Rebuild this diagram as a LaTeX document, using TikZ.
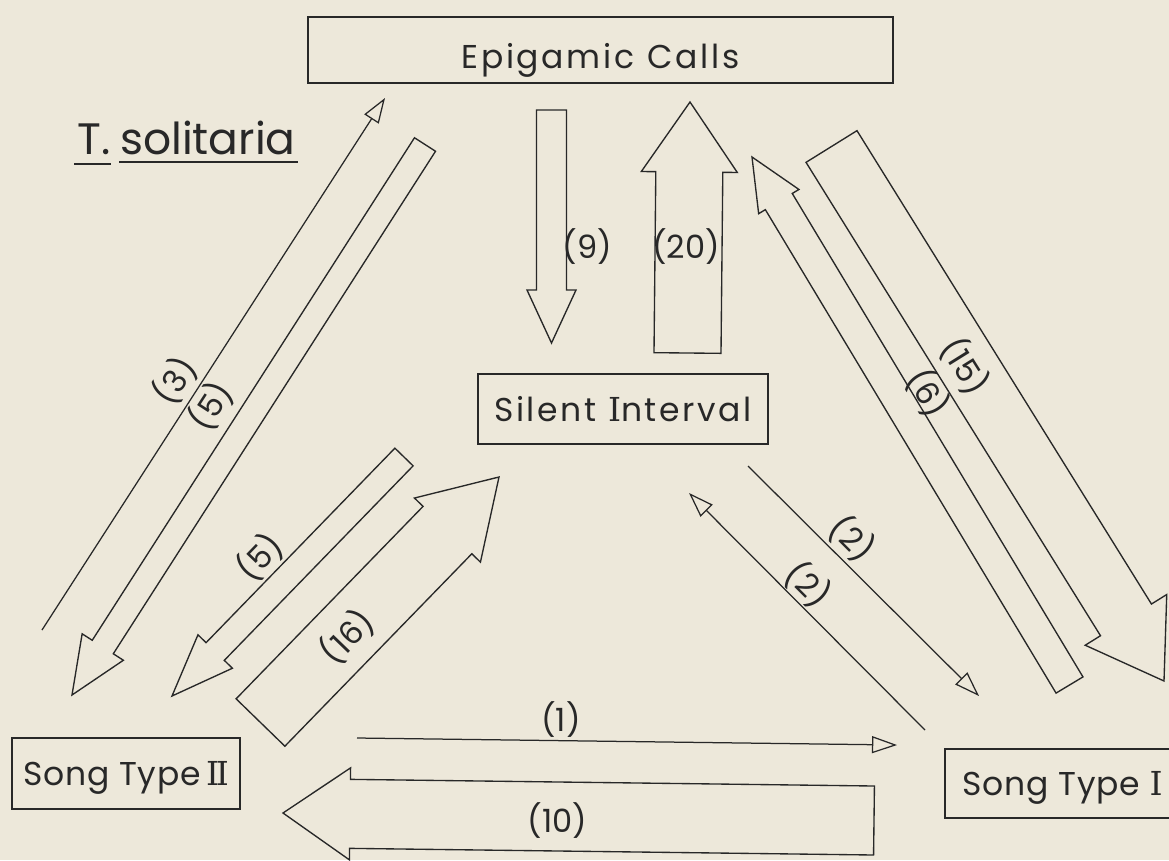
\documentclass[tikz,border=0pt]{standalone}
\usepackage{fontspec}
\setmainfont{Poppins}
\newfontfamily\widefont[LetterSpace=8]{Poppins}
\newfontfamily\midfont[LetterSpace=2.5]{Poppins}
\newfontfamily\serifI{DejaVu Serif}
\usetikzlibrary{calc,arrows.meta}
\definecolor{paper}{RGB}{237,232,218}
\definecolor{ink}{RGB}{40,40,40}
% block arrow: #1 style, #2 tail, #3 tip, #4 half shaft width, #5 half head width, #6 head length
\newcommand\blockarrow[6]{%
  \path ($(#3)!#6!(#2)$) coordinate (bah);
  \draw[#1] ($(#2)!#4!90:(#3)$) -- ($(bah)!#4!90:(#3)$) -- ($(bah)!#5!90:(#3)$) -- (#3)
    -- ($(bah)!#5!-90:(#3)$) -- ($(bah)!#4!-90:(#3)$) -- ($(#2)!#4!-90:(#3)$) -- cycle;
}
\begin{document}
\begin{tikzpicture}[x=1pt,y=-1pt,
  blk/.style={draw=ink, line width=1.35pt, line join=miter},
  lineflow/.style={draw=ink, line width=1.25pt, -{Triangle[open,length=25pt,width=17pt]}},
  box/.style={draw=ink, line width=1.9pt, inner sep=0pt, text=ink, text height=24pt, text depth=0pt},
  widetext/.style={font=\widefont\fontsize{33}{36}\selectfont},
  midtext/.style={font=\midfont\fontsize{33}{36}\selectfont},
  lab/.style={inner sep=0pt, text=ink, font=\fontsize{32}{34}\selectfont},
  title/.style={inner sep=0pt, text=ink, font=\fontsize{44}{48}\selectfont},
]
\useasboundingbox (0,0) rectangle (1169,860);
\fill[paper] (0,0) rectangle (1169,860);
\clip (0,0) rectangle (1169,860);

% boxes
\node[box, widetext, minimum width=585pt, minimum height=66pt] (epi) at (600.5,50) {\raisebox{-6pt}{Epigamic\hspace{0.4em}Calls}};
\node[box, widetext, minimum width=290pt, minimum height=70pt] (sil) at (623,409) {Silent {\serifI I}nterval};
\node[box, midtext, minimum width=228pt, minimum height=71pt] (s2) at (126,773.5) {Song Type\,{\serifI I\kern-0.1em I}};
\node[box, midtext, minimum width=235pt, minimum height=69pt] (s1) at (1062.5,783.5) {Song Type {\serifI I}};

% title
\node[title, anchor=base west] (tT) at (77,154) {T.};
\node[title, anchor=base west] (tsol) at (120,154) {solitaria};
\draw[ink, line width=1.8pt] ($(tT.base west)+(-3,10)$) -- ($(tT.base east)+(1,10)$);
\draw[ink, line width=1.8pt] ($(tsol.base west)+(-1,8)$) -- ($(tsol.base east)+(2,8)$);

% block arrow end points
\coordinate (t5a) at (425,144.5);  \coordinate (h5a) at (72,695);
\coordinate (t5b) at (404,457);    \coordinate (h5b) at (172,696);
\coordinate (t16) at (260.5,722.5); \coordinate (h16) at (499,477);
\coordinate (t9)  at (551.5,110);  \coordinate (h9)  at (551.5,343);
\coordinate (t20) at (687.5,353);  \coordinate (h20) at (690,102);
\coordinate (t6)  at (1069.5,685); \coordinate (h6)  at (752,157);
\coordinate (t15) at (831.5,146.5); \coordinate (h15) at (1164,681);
\coordinate (t10) at (874,820.5);  \coordinate (h10) at (283,813);

\blockarrow{blk}{t5a}{h5a}{12.5pt}{24.5pt}{57pt}
\blockarrow{blk}{t5b}{h5b}{12.7pt}{24pt}{62pt}
\blockarrow{blk}{t16}{h16}{34pt}{46pt}{74pt}
\blockarrow{blk}{t9}{h9}{15pt}{24.5pt}{53pt}
\blockarrow{blk}{t20}{h20}{33.5pt}{48pt}{70pt}
\blockarrow{blk}{t6}{h6}{15.7pt}{23.5pt}{52pt}
\blockarrow{blk}{t15}{h15}{30pt}{48pt}{72pt}
\blockarrow{blk}{t10}{h10}{34.5pt}{46pt}{67pt}

% thin arrows
\coordinate (t3)  at (42,630);   \coordinate (h3)  at (385,98);
\coordinate (t1)  at (357,738);  \coordinate (h1)  at (897,745);
\coordinate (t2a) at (748,466);  \coordinate (h2a) at (979,696);
\coordinate (t2b) at (925,730);  \coordinate (h2b) at (689,493);
\draw[lineflow] (t3) -- (h3);
\draw[lineflow] (t1) -- (h1);
\draw[lineflow] (t2a) -- (h2a);
\draw[lineflow] (t2b) -- (h2b);

% labels
\node[lab, rotate=57] (n3) at (175,381) {(3)};
\node[lab, rotate=57] (n5a) at (211,406) {(5)};
\node[lab, rotate=46] (n5b) at (260,557) {(5)};
\node[lab, rotate=46] (n16) at (347,637) {(16)};
\node[lab] (n9) at (587.5,247) {(9)};
\node[lab] (n20) at (686,247) {(20)};
\node[lab, rotate=-59] (n6) at (928,393) {(6)};
\node[lab, rotate=-58] (n15) at (965,366) {(15)};
\node[lab, rotate=-45] (n2a) at (852,539) {(2)};
\node[lab, rotate=-45] (n2b) at (808,585) {(2)};
\node[lab] (n1) at (561,720) {(1)};
\node[lab] (n10) at (557.5,821) {(10)};
\end{tikzpicture}
\end{document}
